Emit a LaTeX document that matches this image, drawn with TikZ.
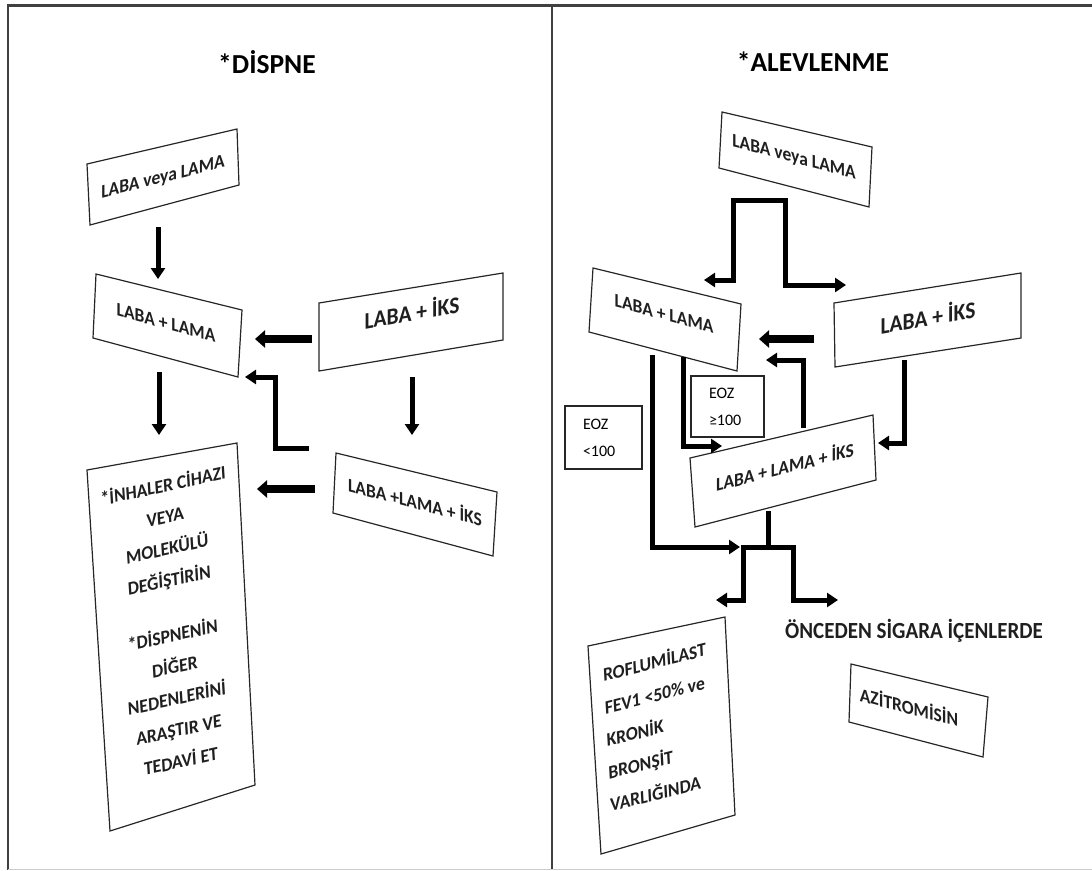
\documentclass[tikz,border=0pt]{standalone}
\usepackage{fontspec}
\setmainfont{Carlito}
\usetikzlibrary{arrows.meta}
\begin{document}
\begin{tikzpicture}[x=1pt,y=-1pt,
  frame/.style={draw=black!75, line width=2.6pt},
  box/.style={draw=black!85, line width=1.2pt, line join=miter},
  arr/.style={line width=5pt, line join=miter, -{Triangle[width=14pt,length=11pt]}},
  arrboth/.style={line width=5pt, line join=miter, {Triangle[width=14pt,length=11pt]}-{Triangle[width=14pt,length=11pt]}},
  thickarr/.style={line width=8pt, -{Triangle[width=17pt,length=10pt]}},
  txt/.style={font=\bfseries\fontsize{17.5}{20}\selectfont, text=black!88, inner sep=0pt, yscale=1.1},
  bigtxt/.style={font=\bfseries\fontsize{21.5}{24}\selectfont, text=black!88, inner sep=0pt, yscale=1.1},
  title/.style={font=\bfseries\fontsize{27.5}{30}\selectfont, inner sep=0pt},
  eoz/.style={draw=black!85, line width=1.2pt, inner ysep=0pt, inner xsep=18pt, align=left, font=\fontsize{16}{27}\selectfont}]
\useasboundingbox (0,0) rectangle (1092,870);
% frame
\draw[frame] (8,870) -- (8,5.5) -- (1092,5.5);
\draw[frame] (552,5.5) -- (552,870);
\draw[black!20, line width=1pt] (8,869.5) -- (1092,869.5);

% ---------- left panel ----------
\node[title] (t1) at (267,62) {*DİSPNE};
\draw[box] (87,164) -- (237,129) -- (239,185) -- (90,225) -- cycle;
\node[txt, yslant=0.23] (lA) at (163,178) {LABA veya LAMA};
\draw[box] (96,274) -- (242,310) -- (238,377) -- (93,338) -- cycle;
\node[txt, yslant=-0.25] (lB) at (166,323) {LABA + LAMA};
\draw[box] (319,303) -- (503,273) -- (503,340) -- (319,371) -- cycle;
\node[bigtxt, yslant=0.16] (lC) at (412,311) {LABA + İKS};
\draw[box] (336,453) -- (497,492) -- (493,556) -- (333,513) -- cycle;
\node[txt, yslant=-0.24] (lD) at (415,501) {LABA +LAMA + İKS};
\draw[box] (87,470) -- (237,443) -- (255,785) -- (110,831) -- cycle;
\node[txt, align=center, font=\bfseries\fontsize{17.5}{29}\selectfont, yslant=0.2, xslant=-0.07] (lE) at (172,622)
  {*İNHALER CİHAZI\\VEYA\\MOLEKÜLÜ\\DEĞİŞTİRİN\\[22pt]*DİSPNENİN\\DİĞER\\NEDENLERİNİ\\ARAŞTIR VE\\TEDAVİ ET};

\coordinate (a1s) at (158,227); \coordinate (a1e) at (158,279);
\coordinate (a2s) at (312,339); \coordinate (a2e) at (255,339);
\coordinate (a3s) at (309,448); \coordinate (a3a) at (275,448); \coordinate (a3b) at (275,377); \coordinate (a3e) at (245,377);
\coordinate (a4s) at (412,377); \coordinate (a4e) at (412,435);
\coordinate (a5s) at (315,489); \coordinate (a5e) at (257,489);
\coordinate (a6s) at (159,372); \coordinate (a6e) at (159,435);
\draw[arr] (a1s) -- (a1e);
\draw[thickarr] (a2s) -- (a2e);
\draw[arr] (a3s) -- (a3a) -- (a3b) -- (a3e);
\draw[arr] (a4s) -- (a4e);
\draw[thickarr] (a5s) -- (a5e);
\draw[arr] (a6s) -- (a6e);

% ---------- right panel ----------
\node[title] (t2) at (813,62) {*ALEVLENME};
\draw[box] (722,112) -- (872,147) -- (869,207) -- (719,168) -- cycle;
\node[txt, yslant=-0.24] (rF) at (794,158) {LABA veya LAMA};
\draw[box] (593,268) -- (741,304) -- (737,371) -- (589,332) -- cycle;
\node[txt, yslant=-0.25] (rG) at (664,314) {LABA + LAMA};
\draw[box] (834,303) -- (1021,273) -- (1021,338) -- (835,367) -- cycle;
\node[bigtxt, yslant=0.16] (rH) at (928,316) {LABA + İKS};
\draw[box] (690,458) -- (873,415) -- (876,480) -- (695,527) -- cycle;
\node[txt, yslant=0.235] (rI) at (785,466) {LABA + LAMA + İKS};
\node[eoz, minimum width=73pt, minimum height=61pt, text width=37pt] (eozA) at (727.5,406.5) {EOZ\\≥100};
\node[eoz, minimum width=77pt, minimum height=63pt, text width=41pt] (eozB) at (603.5,437.5) {EOZ\\<100};
\node[font=\bfseries\fontsize{21}{24}\selectfont, text=black!88, inner sep=0pt, yscale=1.1] (rS) at (914,631) {ÖNCEDEN SİGARA İÇENLERDE};
\draw[box] (588,646) -- (725,617) -- (735,815) -- (601,854) -- cycle;
\node[txt, align=left, font=\bfseries\fontsize{17.5}{30}\selectfont, yslant=0.23, xslant=-0.06] (rJ) at (658,726)
  {ROFLUMİLAST\\FEV1 <50\% ve\\KRONİK\\BRONŞİT\\VARLIĞINDA};
\draw[box] (851,664) -- (988,697) -- (983,757) -- (849,722) -- cycle;
\node[txt, yslant=-0.24] (rK) at (909,706) {AZİTROMİSİN};

\coordinate (b1l) at (704,280); \coordinate (b1a) at (733,280); \coordinate (b1b) at (733,200);
\coordinate (b1c) at (785,200); \coordinate (b1d) at (785,285); \coordinate (b1r) at (846,285);
\draw[arrboth] (b1l) -- (b1a) -- (b1b) -- (b1c) -- (b1d) -- (b1r);
\coordinate (b2s) at (814,339); \coordinate (b2e) at (759,339);
\draw[thickarr] (b2s) -- (b2e);
\coordinate (b3s) at (803,428); \coordinate (b3a) at (803,360); \coordinate (b3e) at (766,360);
\draw[arr] (b3s) -- (b3a) -- (b3e);
\coordinate (b4s) at (683,357); \coordinate (b4a) at (683,446); \coordinate (b4e) at (722,446);
\draw[arr] (b4s) -- (b4a) -- (b4e);
\coordinate (b5s) at (652,355); \coordinate (b5a) at (652,547); \coordinate (b5e) at (740,547);
\draw[arr] (b5s) -- (b5a) -- (b5e);
\coordinate (b6s) at (904,360); \coordinate (b6a) at (904,443); \coordinate (b6e) at (878,443);
\draw[arr] (b6s) -- (b6a) -- (b6e);
\coordinate (b7s) at (768,511); \coordinate (b7j) at (768,549.5);
\draw[line width=5pt] (b7s) -- (b7j);
\coordinate (b8l) at (716,600); \coordinate (b8a) at (743,600); \coordinate (b8b) at (743,547);
\coordinate (b8c) at (793,547); \coordinate (b8d) at (793,600); \coordinate (b8r) at (838,600);
\draw[arrboth] (b8l) -- (b8a) -- (b8b) -- (b8c) -- (b8d) -- (b8r);
\end{tikzpicture}
\end{document}
